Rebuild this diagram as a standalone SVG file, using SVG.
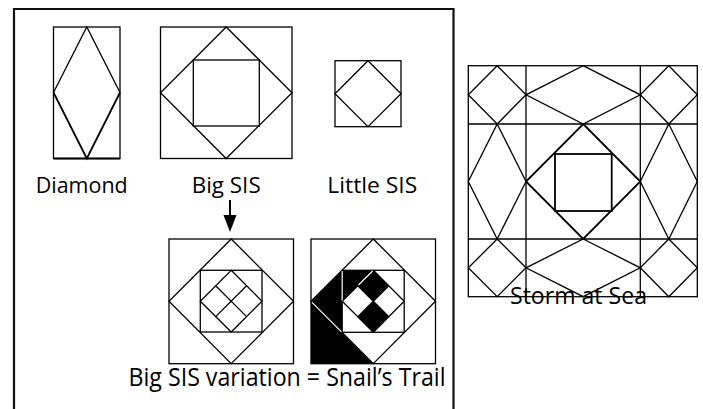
<svg xmlns="http://www.w3.org/2000/svg" width="703" height="409" viewBox="0 0 703 409">
<style>
.ln{fill:none;stroke:#000;stroke-width:1.3;stroke-linejoin:miter}
.thk{fill:none;stroke:#000;stroke-width:1.8}
.wl{fill:none;stroke:#fff;stroke-width:1.2}
.blk{fill:#000;stroke:none}
.lbl{font-family:"Open Sans","Noto Sans","Liberation Sans",sans-serif;fill:#000}
</style>
<rect width="703" height="409" fill="#fff"/>
<g id="frame">
<path d="M14 409 V9 H453.5 V409" fill="none" stroke="#111" stroke-width="2.2"/>
</g>
<g id="diamond">
<rect class="ln" x="53.5" y="27" width="66.5" height="131.5"/>
<path class="ln" d="M53.5 92.5 L86.8 27 L120 92.5"/>
<path class="thk" d="M53.5 92.5 L86.8 158.5 L120 92.5 M53.5 158.5 H120"/>
<text class="lbl" x="35.7" y="192.7" font-size="22.5" textLength="92" lengthAdjust="spacingAndGlyphs">Diamond</text>
</g>
<g id="big-sis">
<rect class="ln" x="160.5" y="27" width="131.5" height="131.5"/>
<polygon class="ln" points="226.2,27 292,92.7 226.2,158.5 160.5,92.7"/>
<rect class="ln" x="193.3" y="60" width="66" height="66"/>
<text class="lbl" x="191.7" y="193" font-size="22.5" textLength="69" lengthAdjust="spacingAndGlyphs">Big SIS</text>
</g>
<g id="little-sis">
<rect class="ln" x="335" y="60.7" width="66" height="66"/>
<polygon class="ln" points="368,60.7 401,93.7 368,126.7 335,93.7"/>
<text class="lbl" x="327.3" y="193" font-size="22.5" textLength="90" lengthAdjust="spacingAndGlyphs">Little SIS</text>
</g>
<g id="connectors">
<line x1="230" y1="200" x2="230" y2="217" stroke="#000" stroke-width="2"/>
<polygon points="223.5,215 236.5,215 230,232" fill="#000"/>
</g>
<g id="big-sis-variation">
<rect class="ln" x="169" y="239" width="124.5" height="124.7"/>
<polygon class="ln" points="231.2,239 293.5,301.3 231.2,363.7 169,301.3"/>
<rect class="ln" x="200.3" y="270.3" width="61.7" height="61.7"/>
<polygon class="ln" points="231.2,270.3 262,301.2 231.2,332 200.3,301.2"/>
<path class="ln" d="M215.7 285.7 L246.6 316.6 M246.6 285.7 L215.7 316.6"/>
</g>
<g id="snails-trail">
<polygon class="blk" points="311,301.3 311,363.7 373.3,363.7"/>
<polygon class="blk" points="311,301.3 342.2,270.3 342.2,332.3"/>
<polygon class="blk" points="342.2,270.3 373.3,270.3 342.2,301.3"/>
<polygon class="blk" points="373.3,270.3 388.8,285.8 373.3,301.3 357.8,285.8"/>
<polygon class="blk" points="373.3,301.3 388.8,316.8 373.3,332.3 357.8,316.8"/>
<rect class="ln" x="311" y="239" width="124.5" height="124.7"/>
<polygon class="ln" points="373.3,239 435.5,301.3 373.3,363.7 311,301.3"/>
<rect class="ln" x="342.2" y="270.3" width="62" height="62"/>
<polygon class="ln" points="373.3,270.3 404.2,301.3 373.3,332.3 342.2,301.3"/>
<path class="ln" d="M357.8 285.8 L388.8 316.8 M388.8 285.8 L357.8 316.8"/>
<path class="wl" d="M312 302.3 L341.5 331.8 M342.2 271 V300.5 M358.5 285 L372.6 271"/>
</g>
<g id="storm-at-sea">
<rect class="ln" x="468.3" y="65.7" width="229" height="231"/>
<path class="ln" d="M526 65.7 V296.7 M640.3 65.7 V296.7 M468.3 124 H697.3 M468.3 239 H697.3"/>
<polygon class="ln" points="497.2,65.7 526,94.8 497.2,124 468.3,94.8"/>
<polygon class="ln" points="668.8,65.7 697.3,94.8 668.8,124 640.3,94.8"/>
<polygon class="ln" points="497.2,239 526,267.8 497.2,296.7 468.3,267.8"/>
<polygon class="ln" points="668.8,239 697.3,267.8 668.8,296.7 640.3,267.8"/>
<polygon class="ln" points="583.2,65.7 640.3,94.8 583.2,124 526,94.8"/>
<polygon class="ln" points="583.2,239 640.3,267.8 583.2,296.7 526,267.8"/>
<polygon class="ln" points="497.2,124 526,181.5 497.2,239 468.3,181.5"/>
<polygon class="ln" points="668.8,124 697.3,181.5 668.8,239 640.3,181.5"/>
<polygon class="thk" points="583.2,124 640.3,181.5 583.2,239 526,181.5"/>
<rect class="thk" x="555" y="154" width="56.7" height="57"/>
<text class="lbl" x="510" y="303.5" font-size="23" textLength="137" lengthAdjust="spacingAndGlyphs">Storm at Sea</text>
</g>
<text id="variation-label" class="lbl" x="128.5" y="385.7" font-size="26" textLength="317" lengthAdjust="spacingAndGlyphs">Big SIS variation = Snail’s Trail</text>
</svg>
